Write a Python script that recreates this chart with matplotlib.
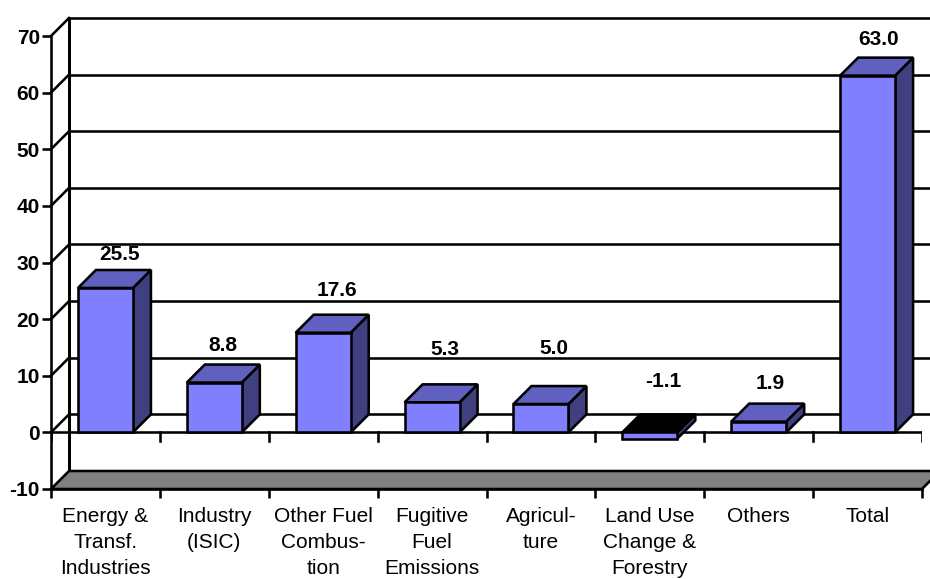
import matplotlib
matplotlib.use("Agg")
import matplotlib.pyplot as plt
from matplotlib.patches import Polygon

categories = ["Energy &\nTransf.\nIndustries", "Industry\n(ISIC)", "Other Fuel\nCombus-\ntion",
              "Fugitive\nFuel\nEmissions", "Agricul-\nture", "Land Use\nChange &\nForestry",
              "Others", "Total"]
values = [25.5, 8.8, 17.6, 5.3, 5.0, -1.1, 1.9, 63.0]
value_labels = ["25.5", "8.8", "17.6", "5.3", "5.0", "-1.1", "1.9", "63.0"]
y_ticks = [-10, 0, 10, 20, 30, 40, 50, 60, 70]

W, H = 930, 579
L, R, T, B = 51, 922, 36, 489
plt.rcParams["font.family"] = ["Liberation Sans", "DejaVu Sans"]
plt.rcParams["axes.unicode_minus"] = False
fig = plt.figure(figsize=(W / 100, H / 100), dpi=100)
ax = fig.add_axes([L / W, 1 - B / H, (R - L) / W, (B - T) / H])
ax.set_xlim(0, 8)
ax.set_ylim(-10, 70)
ax.patch.set_visible(False)

DX = 18 / ((R - L) / 8)
DY = 18 / ((B - T) / 80)
LW = 1.85
XMAX = (W + 20 - L) / ((R - L) / 8)
FRONT, TOPC, SIDE = "#8080FF", "#6060C0", "#404080"
FS = 15

for s in ("top", "right"):
    ax.spines[s].set_visible(False)
for s in ("left", "bottom"):
    ax.spines[s].set_linewidth(LW)

# back wall grid and side wall
for t in y_ticks:
    ax.plot([DX, XMAX], [t + DY, t + DY], color="black", lw=LW, clip_on=False, zorder=1)
    ax.plot([0, DX], [t, t + DY], color="black", lw=LW, clip_on=False, zorder=1)
ax.plot([DX, DX], [-10 + DY, 70 + DY], color="black", lw=LW + 0.3, clip_on=False, zorder=1)

# zero plane hides the grid below zero at the front
ax.fill_between([0, 8], [-10, -10], [0, 0], color="white", zorder=1.5)
ax.plot([DX, DX], [-10 + DY, 0], color="black", lw=LW + 0.3, zorder=1.6)
# floor
ax.add_patch(Polygon([(0, -10), (DX, -10 + DY), (8 + DX, -10 + DY), (8, -10)], closed=True,
                     fc="#808080", ec="black", lw=LW, clip_on=False, zorder=2, joinstyle="miter"))
ax.plot([0, 8], [0, 0], color="black", lw=LW, zorder=4)
for x in range(0, 9):
    ax.plot([x, x], [0, -1.5], color="black", lw=LW, zorder=4)

# bars
BW = 0.505
for i, v in enumerate(values):
    x0, x1 = i + 0.5 - BW / 2, i + 0.5 + BW / 2
    hi = max(v, 0)
    lo = min(v, 0)
    ax.add_patch(Polygon([(x1, lo), (x1 + DX, lo + DY), (x1 + DX, hi + DY), (x1, hi)], closed=True,
                         fc=SIDE, ec="black", lw=LW, zorder=5, joinstyle="miter"))
    ax.add_patch(Polygon([(x0, hi), (x0 + DX, hi + DY), (x1 + DX, hi + DY), (x1, hi)], closed=True,
                         fc="black" if v < 0 else TOPC, ec="black", lw=LW, zorder=5, joinstyle="miter"))
    ax.bar(i + 0.5, v, width=BW, color=FRONT, edgecolor="black", linewidth=LW, zorder=6)

# value labels, nudged by hand as in the source chart (pixels right, pixels above the bar's back edge)
nudges = [(14, 15), (9, 19), (14, 24), (13, 35), (13, 38), (13, 33), (11, 20), (11, 18)]
for i, (v, txt, (nx, ny)) in enumerate(zip(values, value_labels, nudges)):
    ax.annotate(txt, xy=(i + 0.5, max(v, 0) + DY), xytext=(nx * 0.72, ny * 0.72),
                textcoords="offset points", ha="center", va="center", fontsize=FS,
                fontweight="bold", zorder=8)

# axes ticks
ax.set_yticks(y_ticks)
ax.tick_params(axis="y", length=6.5, width=LW, pad=1.5, labelsize=FS)
for lab in ax.get_yticklabels():
    lab.set_fontweight("bold")
ax.set_xticks(range(0, 9))
ax.set_xticklabels([])
ax.tick_params(axis="x", which="major", length=6.5, width=LW)
ax.set_xticks([i + 0.5 for i in range(8)], minor=True)
ax.set_xticklabels(categories, minor=True, fontsize=FS, linespacing=1.46, va="top")
ax.tick_params(axis="x", which="minor", length=0, pad=13)

fig.savefig("out.png", dpi=100)
